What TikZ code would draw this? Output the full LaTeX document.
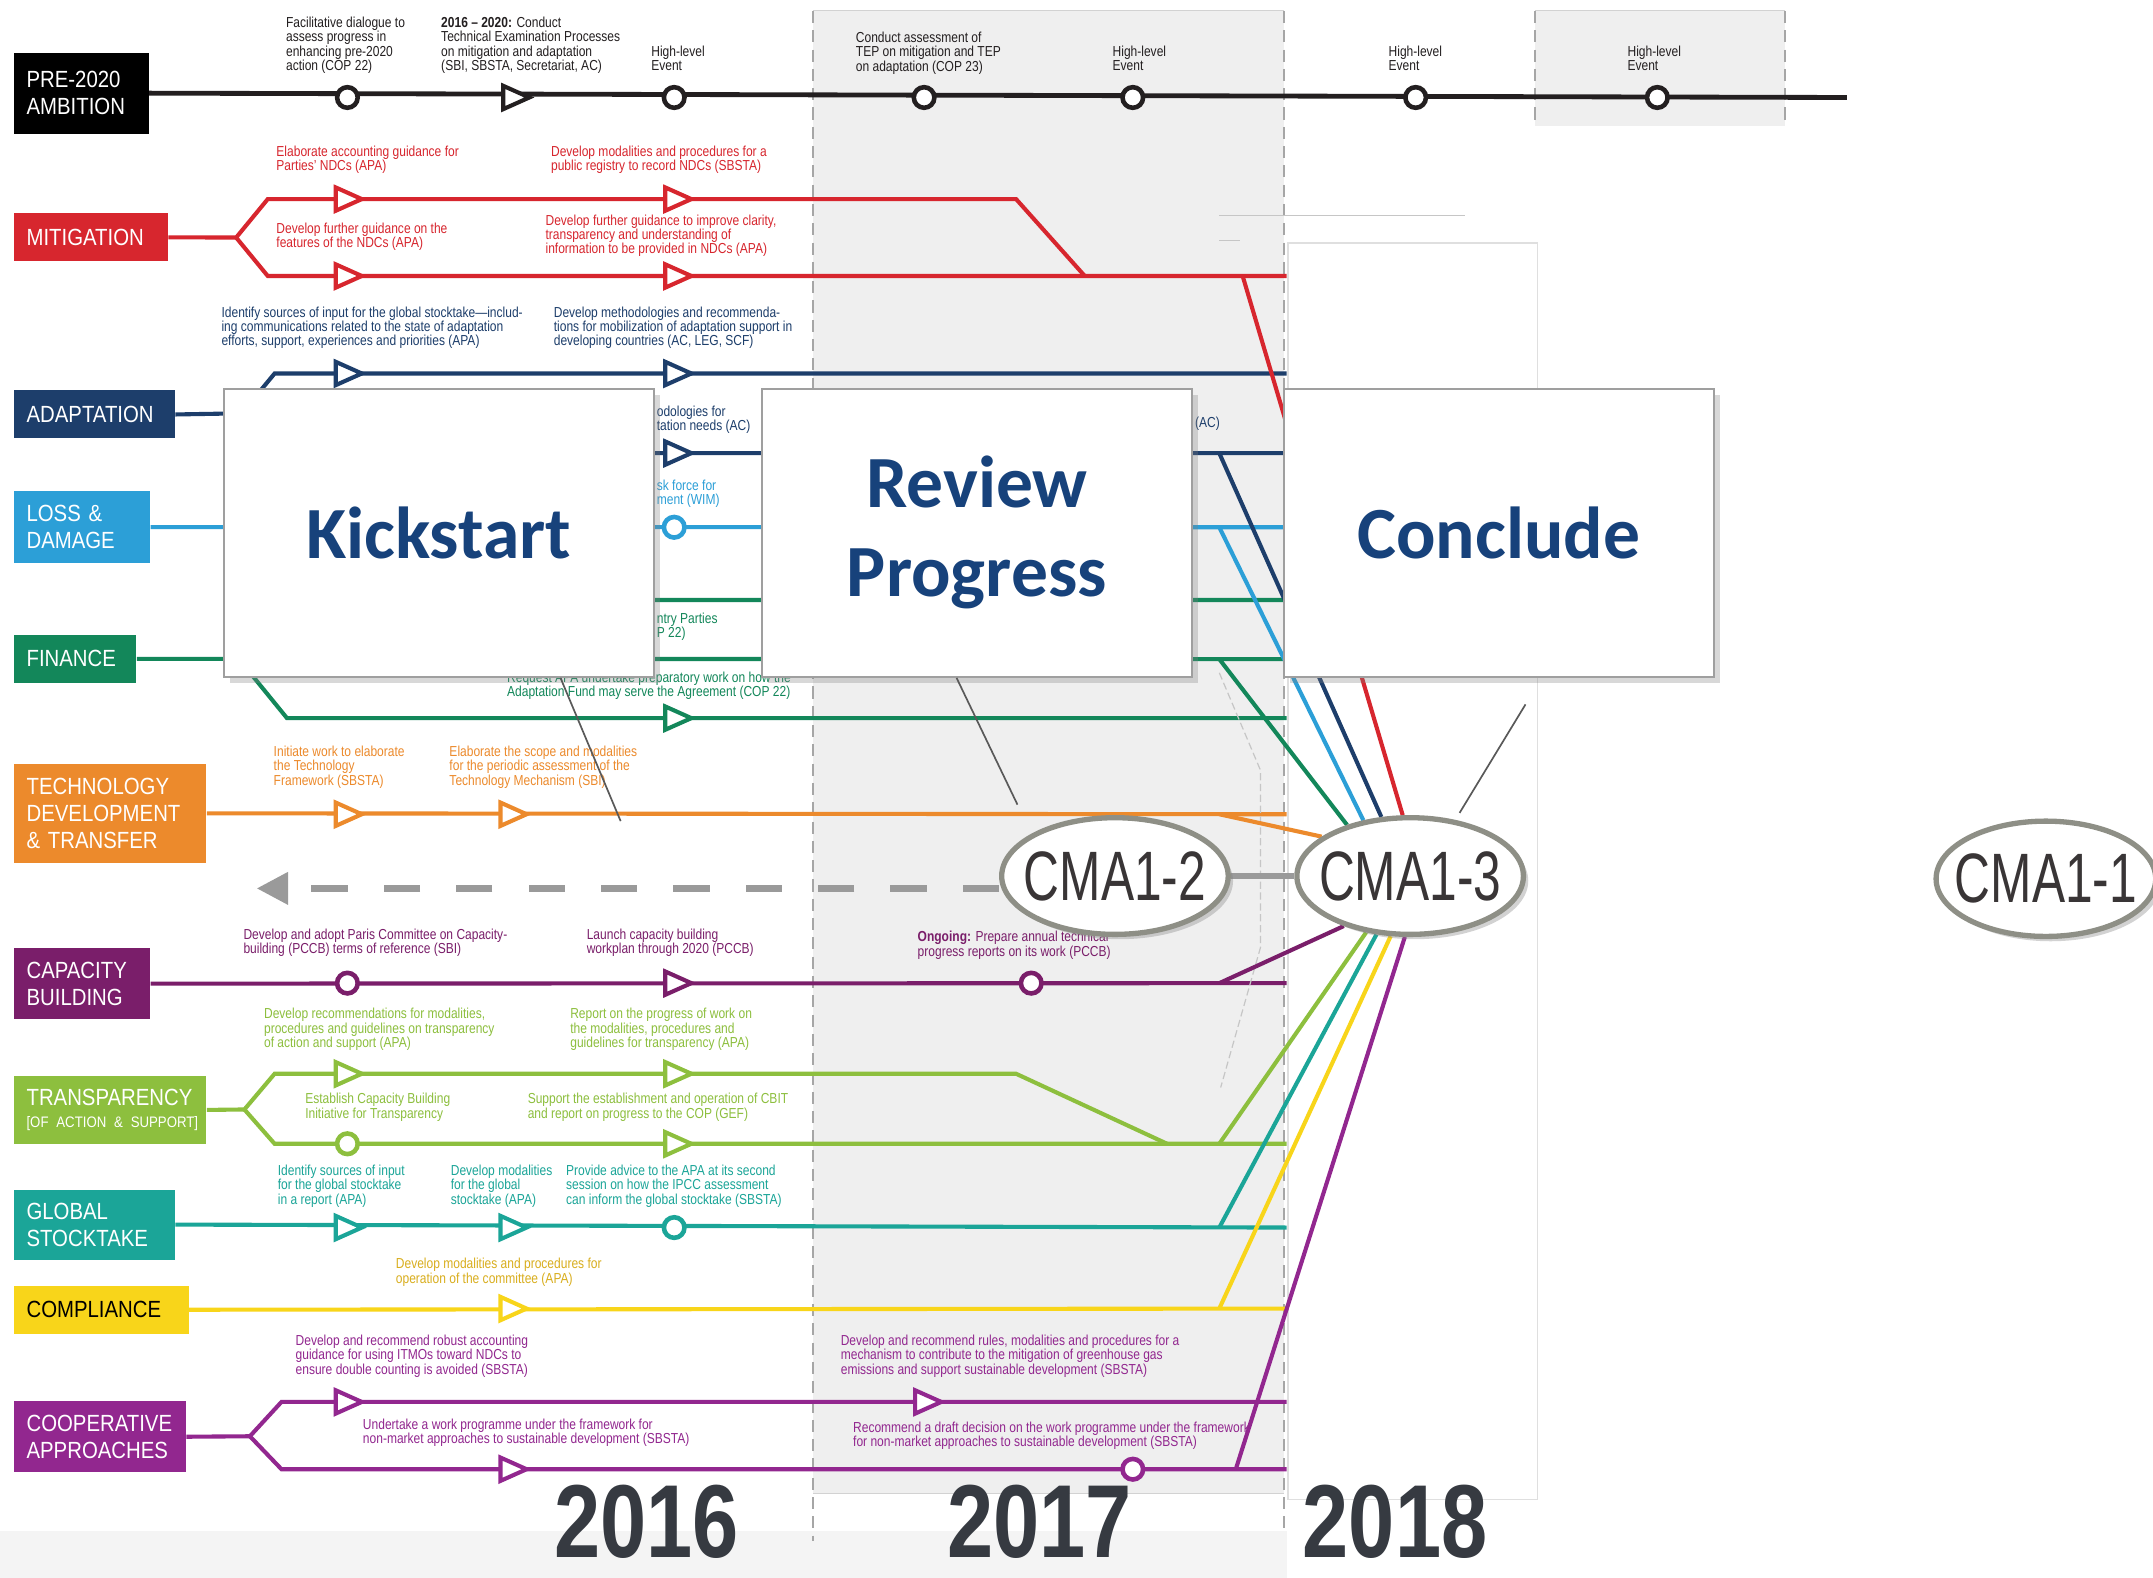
\documentclass[tikz,border=0pt]{standalone}
\usepackage{fontspec}
\setmainfont{Liberation Sans}
\newfontfamily\notefont[FakeStretch=0.83]{Liberation Sans}
\newfontfamily\tagfont[FakeStretch=0.87]{Liberation Sans}
\newfontfamily\cmafont[FakeStretch=0.71]{Liberation Sans}
\newfontfamily\yearfont[FakeStretch=0.8]{Liberation Sans}
\newfontfamily\stagefont{Carlito}
\usepackage{xcolor}
\usetikzlibrary{arrows.meta,shapes.geometric,shadows}

\definecolor{cred}{HTML}{D7262E}
\definecolor{cnavy}{HTML}{1D3E6B}
\definecolor{clblue}{HTML}{2C9FD7}
\definecolor{cgreen}{HTML}{13875A}
\definecolor{corange}{HTML}{EC8A2C}
\definecolor{cplum}{HTML}{7A1E6A}
\definecolor{clime}{HTML}{8DBF3E}
\definecolor{cteal}{HTML}{1BA598}
\definecolor{cyellow}{HTML}{F8D51A}
\definecolor{cgold}{HTML}{D9AE1E}
\definecolor{cpurple}{HTML}{92278F}
\definecolor{cink}{HTML}{231F20}
\definecolor{cyear}{HTML}{363A41}
\definecolor{cring}{HTML}{8E8F86}
\definecolor{cstage}{HTML}{17427B}
\definecolor{ccol}{HTML}{EFEFEF}
\definecolor{cdash}{HTML}{9A9A9A}

\pgfdeclarelayer{back}
\pgfdeclarelayer{mid}
\pgfsetlayers{back,mid,main}

\begin{document}
\begin{tikzpicture}[
		x=0.02cm, y=-0.02cm,
		>={Triangle[length=13pt,width=13pt]},
		every node/.style={inner sep=0pt},
		tag/.style={fill=#1, text=white, font=\tagfont\fontsize{9.7}{11.3}\selectfont, align=left, anchor=north west, inner xsep=0.18cm},
		lane/.style={draw=#1, line width=1.7pt},
		ring/.style={circle, draw=#1, fill=white, line width=1.9pt, minimum size=0.3cm},
		tri/.style={isosceles triangle, isosceles triangle stretches, draw=#1, fill=white, line width=1.7pt, minimum width=0.34cm, minimum height=0.38cm},
		note/.style={text=#1, font=\notefont\fontsize{6}{5.95}\selectfont, align=left, anchor=north west},
		stage/.style={draw=gray!75, fill=white, line width=0.8pt, minimum width=6.26cm, minimum height=4.2cm, align=center, text=cstage, font=\stagefont\bfseries\fontsize{30.5}{36.8}\selectfont, drop shadow={opacity=0.3, shadow xshift=2.5pt, shadow yshift=-2.5pt}},
		cma/.style={ellipse, draw=cring, fill=white, line width=2.2pt, inner xsep=-0.3cm, minimum width=3.3cm, minimum height=1.7cm, text=cink!90, font=\cmafont\fontsize{29}{29}\selectfont, drop shadow={opacity=0.35, shadow xshift=2pt, shadow yshift=-2pt}},
		year/.style={anchor=base, text=cyear, font=\yearfont\bfseries\fontsize{43}{43}\selectfont},
		divider/.style={draw=gray!70, line width=0.6pt, dash pattern=on 5pt off 3pt},
		leader/.style={draw=gray!70!black, line width=0.7pt},
		retro/.style={draw=cdash, line width=2.6pt, dash pattern=on 15pt off 15pt, ->},
		link/.style={draw=cdash, line width=2.4pt},
		guide/.style={draw=gray!45, line width=0.5pt, dash pattern=on 3pt off 1.5pt}
		]
		
		\useasboundingbox (0,0) rectangle (1568,1149);
		
		\begin{pgfonlayer}{back}
			\fill[white] (0,0) rectangle (1568,1149);
			\fill[ccol] (592,8) rectangle (935,1088);
			\draw[gray!35, line width=0.4pt] (592,8) -- (935,8) (592,1088) -- (935,1088);
			\fill[ccol] (1118,8) rectangle (1300,92);
			\draw[gray!35, line width=0.4pt] (1118,8) -- (1300,8);
			\draw[gray!25, fill=white, line width=0.5pt] (938,177) rectangle (1120,1092);
			\fill[gray!9] (0,1115) rectangle (937,1149);
			\draw[divider] (592,8) -- (592,1122);
			\draw[divider] (935,8) -- (935,1115);
			\draw[divider] (1118,8) -- (1118,92);
			\draw[divider] (1300,8) -- (1300,92);
			\draw[gray!45, line width=0.6pt] (888,157) -- (1067,157) (888,175) -- (903,175);
		\end{pgfonlayer}
		
		% lane labels
		\node[tag=black, text width=1.6cm, minimum height=1.18cm] (pre) at (10,38) {PRE-2020\\AMBITION};
		\node[tag=cred, text width=1.88cm, minimum height=0.7cm] (mit) at (10,155) {MITIGATION};
		\node[tag=cnavy, text width=1.98cm, minimum height=0.7cm] (ada) at (10,284) {ADAPTATION};
		\node[tag=clblue, text width=1.62cm, minimum height=1.06cm] (loss) at (10,357) {LOSS \&\\DAMAGE};
		\node[tag=cgreen, text width=1.42cm, minimum height=0.7cm] (fin) at (10,462) {FINANCE};
		\node[tag=corange, text width=2.44cm, minimum height=1.44cm] (tech) at (10,556) {TECHNOLOGY\\DEVELOPMENT\\\& TRANSFER};
		\node[tag=cplum, text width=1.62cm, minimum height=1.04cm] (cap) at (10,690) {CAPACITY\\BUILDING};
		\node[tag=clime, text width=2.44cm, minimum height=1.0cm, font=\tagfont\fontsize{9.7}{9.5}\selectfont] (tra) at (10,783) {TRANSPARENCY\\\mbox{\fontsize{6.3}{7}\selectfont [OF ACTION \& SUPPORT]}};
		\node[tag=cteal, text width=1.98cm, minimum height=1.02cm] (gst) at (10,866) {GLOBAL\\STOCKTAKE};
		\node[tag=cyellow, text=black, text width=2.18cm, minimum height=0.7cm] (com) at (10,936) {COMPLIANCE};
		\node[tag=cpurple, text width=2.14cm, minimum height=1.04cm] (coop) at (10,1020) {COOPERATIVE\\APPROACHES};
		
		% lane ends
		\coordinate (preE) at (1345,71);
		\coordinate (mitE) at (937,201);
		\coordinate (mitT) at (905,201);
		\coordinate (adaE1) at (937,272);
		\coordinate (adaE2) at (937,330);
		\coordinate (adaT) at (888,330);
		\coordinate (lossE) at (937,384);
		\coordinate (lossT) at (888,384);
		\coordinate (finE1) at (937,437);
		\coordinate (finE) at (937,480);
		\coordinate (finT) at (888,480);
		\coordinate (finE2) at (937,523);
		\coordinate (techE) at (937,593);
		\coordinate (techT) at (888,593);
		\coordinate (capE) at (937,716);
		\coordinate (capT) at (888,716);
		\coordinate (traE) at (937,833);
		\coordinate (traT) at (888,833);
		\coordinate (gstE) at (937,894);
		\coordinate (gstT) at (888,894);
		\coordinate (comE) at (937,953);
		\coordinate (comT) at (888,953);
		\coordinate (coopE1) at (937,1021);
		\coordinate (coopE2) at (937,1070);
		\coordinate (coopT) at (900,1070);
		\coordinate (retroE) at (187,647);
		
		% milestones
		\node[ring=cink] (p1) at (253,71) {};
		\node[tri=cink] (p2) at (372,71) {};
		\node[ring=cink] (p3) at (491,71) {};
		\node[ring=cink] (p4) at (673,71) {};
		\node[ring=cink] (p5) at (825,71) {};
		\node[ring=cink] (p6) at (1031,71) {};
		\node[ring=cink] (p7) at (1207,71) {};
		\node[tri=cred] (m1) at (250,145) {};
		\node[tri=cred] (m2) at (490,145) {};
		\node[tri=cred] (m3) at (250,201) {};
		\node[tri=cred] (m4) at (490,201) {};
		\node[tri=cnavy] (a1) at (250,272) {};
		\node[tri=cnavy] (a2) at (490,272) {};
		\node[tri=cnavy] (a3) at (490,330) {};
		\node[ring=clblue] (l1) at (491,384) {};
		\node[tri=cgreen] (f1) at (490,523) {};
		\node[tri=corange] (t1) at (250,593) {};
		\node[tri=corange] (t2) at (370,593) {};
		\node[ring=cplum] (c1) at (253,716) {};
		\node[tri=cplum] (c2) at (490,716) {};
		\node[ring=cplum] (c3) at (751,716) {};
		\node[tri=clime] (r1) at (250,782) {};
		\node[tri=clime] (r2) at (490,782) {};
		\node[ring=clime] (r3) at (253,833) {};
		\node[tri=clime] (r4) at (490,833) {};
		\node[tri=cteal] (g1) at (250,894) {};
		\node[tri=cteal] (g2) at (370,894) {};
		\node[ring=cteal] (g3) at (491,894) {};
		\node[tri=cyellow] (k1) at (370,953) {};
		\node[tri=cpurple] (o1) at (250,1021) {};
		\node[tri=cpurple] (o2) at (672,1021) {};
		\node[tri=cpurple] (o3) at (370,1070) {};
		\node[ring=cpurple] (o4) at (825,1070) {};
		
		% notes
		\node[note=cink] (pn1) at (208,12) {Facilitative dialogue to\\assess progress in\\enhancing pre-2020\\action (COP 22)};
		\node[note=cink] (pn2) at (321,12) {\textbf{2016 – 2020:} Conduct\\Technical Examination Processes\\on mitigation and adaptation\\(SBI, SBSTA, Secretariat, AC)};
		\node[note=cink] (pn3) at (474,33) {High-level\\Event};
		\node[note=cink] (pn4) at (623,23) {Conduct assessment of\\TEP on mitigation and TEP\\on adaptation (COP 23)};
		\node[note=cink] (pn5) at (810,33) {High-level\\Event};
		\node[note=cink] (pn6) at (1011,33) {High-level\\Event};
		\node[note=cink] (pn7) at (1185,33) {High-level\\Event};
		\node[note=cred] (mn1) at (201,106) {Elaborate accounting guidance for\\Parties’ NDCs (APA)};
		\node[note=cred] (mn2) at (401,106) {Develop modalities and procedures for a\\public registry to record NDCs (SBSTA)};
		\node[note=cred] (mn3) at (201,162) {Develop further guidance on the\\features of the NDCs (APA)};
		\node[note=cred] (mn4) at (397,156) {Develop further guidance to improve clarity,\\transparency and understanding of\\information to be provided in NDCs (APA)};
		\node[note=cnavy] (an1) at (161,223) {Identify sources of input for the global stocktake—includ-\\ing  communications related to the state of adaptation\\efforts, support, experiences and priorities (APA)};
		\node[note=cnavy] (an2) at (403,223) {Develop methodologies and recommenda-\\tions for mobilization of adaptation support in\\developing countries (AC, LEG, SCF)};
		\node[note=cnavy] (an3) at (478,295) {odologies for\\tation needs (AC)};
		\node[note=cnavy] (an4) at (870,303) {(AC)};
		\node[note=clblue] (ln1) at (478,349) {sk force for\\ment (WIM)};
		\node[note=cgreen] (fn1) at (478,446) {ntry Parties\\P 22)};
		\node[note=cgreen] (fn2) at (369,489) {Request APA undertake preparatory work on how the\\Adaptation Fund may serve the Agreement (COP 22)};
		\node[note=corange] (tn1) at (199,543) {Initiate work to elaborate\\the Technology\\Framework (SBSTA)};
		\node[note=corange] (tn2) at (327,543) {Elaborate the scope and modalities\\for the periodic assessment of the\\Technology Mechanism (SBI)};
		\node[note=cplum] (cn1) at (177,676) {Develop and adopt Paris Committee on Capacity-\\building (PCCB) terms of reference (SBI)};
		\node[note=cplum] (cn2) at (427,676) {Launch capacity building\\workplan through 2020 (PCCB)};
		\node[note=cplum] (cn3) at (668,678) {\textbf{Ongoing:} Prepare annual technical\\progress reports on its work (PCCB)};
		\node[note=clime] (rn1) at (192,734) {Develop recommendations for modalities,\\procedures and guidelines on transparency\\of action and support (APA)};
		\node[note=clime] (rn2) at (415,734) {Report on the progress of work on\\the modalities, procedures and\\guidelines for transparency (APA)};
		\node[note=clime] (rn3) at (222,796) {Establish Capacity Building\\Initiative for Transparency};
		\node[note=clime] (rn4) at (384,796) {Support the establishment and operation of CBIT\\and report on progress to the COP (GEF)};
		\node[note=cteal] (gn1) at (202,848) {Identify sources of input\\for the global stocktake\\in a report (APA)};
		\node[note=cteal] (gn2) at (328,848) {Develop modalities\\for the global\\stocktake (APA)};
		\node[note=cteal] (gn3) at (412,848) {Provide advice to the APA at its second\\session on how the IPCC assessment\\can inform the global stocktake (SBSTA)};
		\node[note=cgold] (kn1) at (288,916) {Develop modalities and procedures for\\operation of the committee (APA)};
		\node[note=cpurple] (on1) at (215,972) {Develop and recommend robust accounting\\guidance for using ITMOs toward NDCs to\\ensure double counting is avoided (SBSTA)};
		\node[note=cpurple] (on2) at (264,1033) {Undertake a work programme under the framework for\\non-market approaches to sustainable development (SBSTA)};
		\node[note=cpurple] (on3) at (612,972) {Develop and recommend rules, modalities and procedures for a\\mechanism to contribute to the mitigation of greenhouse gas\\emissions and support sustainable development (SBSTA)};
		\node[note=cpurple] (on4) at (621,1035) {Recommend a draft decision on the work programme under the framework\\for non-market approaches to sustainable development (SBSTA)};
		
		% years
		\node[year] (y16) at (471,1134) {2016};
		\node[year] (y17) at (757,1134) {2017};
		\node[year] (y18) at (1016,1134) {2018};
		
		% stages
		\node[stage] (kick) at (319.5,388) {Kickstart};
		\node[stage] (rev) at (711.5,388) {Review\\Progress};
		\node[stage] (conc) at (1091.5,388) {Conclude};
		
		\coordinate (kickpin) at (452,598);
		\coordinate (revpin) at (741,586);
		\coordinate (conctop) at (1111,513);
		\coordinate (concpin) at (1063,592);
		\draw[leader] (kick.-50) -- (kickpin);
		\draw[leader] (rev.-98) -- (revpin);
		\draw[leader] (conctop) -- (concpin);
		
		\node[cma] (cma2) at (812,638) {CMA1-2};
		\node[cma] (cma3) at (1027,638) {CMA1-3};
		\node[cma, minimum width=3.2cm, minimum height=1.68cm] (cma1) at (1490,640) {CMA1-1};
		
		\draw[retro] (cma2.west |- retroE) -- (retroE);
		
		\begin{pgfonlayer}{mid}
			\draw[lane=cink, line width=2pt] (pre.east) -- (preE);
			\draw[lane=cred] (mit.east) -- (172,173) -- (195,145) -- (740,145) -- (790,201);
			\draw[lane=cred] (172,173) -- (195,201) -- (mitE);
			\draw[lane=cnavy] (ada.east) -- (176,301) -- (200,272) -- (adaE1);
			\draw[lane=cnavy] (176,301) -- (200,330) -- (adaE2);
			\draw[lane=clblue] (loss.east) -- (lossE);
			\draw[lane=cgreen] (fin.east) -- (finE);
			\draw[lane=cgreen] (174,480) -- (204,437) -- (finE1);
			\draw[lane=cgreen] (174,480) -- (209,523) -- (finE2);
			\draw[lane=corange] (tech.east) -- (techE);
			\draw[lane=cplum] (cap.east) -- (capE);
			\draw[lane=clime] (tra.east) -- (178,808) -- (200,782) -- (740,782) -- (850,833);
			\draw[lane=clime] (178,808) -- (200,833) -- (traE);
			\draw[lane=cteal] (gst.east) -- (gstE);
			\draw[lane=cyellow] (com.east) -- (comE);
			\draw[lane=cpurple] (coop.east) -- (182,1046) -- (205,1021) -- (coopE1);
			\draw[lane=cpurple] (182,1046) -- (205,1070) -- (coopE2);
			
			\draw[guide] (888,490) -- (918,561) -- (918,690) -- (889,792);
			
			\draw[lane=cred] (mitT) -- (cma3.97);
			\draw[lane=cnavy] (adaT) -- (cma3.116);
			\draw[lane=clblue] (lossT) -- (cma3.130);
			\draw[lane=cgreen] (finT) -- (cma3.141);
			\draw[lane=corange] (techT) -- (cma3.156);
			\draw[lane=cplum] (capT) -- (cma3.217);
			\draw[lane=clime] (traT) -- (cma3.232);
			\draw[lane=cteal] (gstT) -- (cma3.240);
			\draw[lane=cyellow] (comT) -- (cma3.252);
			\draw[lane=cpurple] (coopT) -- (cma3.265);
			\draw[link] (cma2) -- (cma3);
		\end{pgfonlayer}
		
	\end{tikzpicture}
\end{document}
